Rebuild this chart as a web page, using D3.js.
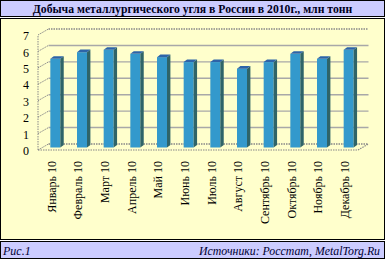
<!DOCTYPE html>
<html>
<head>
<meta charset="utf-8">
<script src="https://cdn.jsdelivr.net/npm/d3@7"></script>
<style>
  body { margin: 0; background: #fff; }
  svg { display: block; }
</style>
</head>
<body>
<svg id="chart" width="385" height="260"></svg>
<script>
// data
const months = ["Январь 10", "Февраль 10", "Март 10", "Апрель 10", "Май 10", "Июнь 10",
                "Июль 10", "Август 10", "Сентябрь 10", "Октябрь 10", "Ноябрь 10", "Декабрь 10"];
const output = [5.4, 5.8, 5.95, 5.7, 5.5, 5.2, 5.2, 4.8, 5.2, 5.7, 5.4, 5.95];
const yTicks = [0, 1, 2, 3, 4, 5, 6, 7];
const title = "Добыча металлургического угля в России в 2010г., млн тонн";
const figLabel = "Рис.1";
const source = "Источники: Росстат, MetalTorg.Ru";

const serif = "'Liberation Serif', 'Times New Roman', Times, serif";
const svg = d3.select("#chart").attr("font-family", serif);

// frames
svg.append("rect").attr("x", 0.5).attr("y", 0.5).attr("width", 384).attr("height", 16)
  .attr("fill", "#ccccff").attr("stroke", "#000");
svg.append("rect").attr("x", 0.5).attr("y", 18.5).attr("width", 384).attr("height", 221)
  .attr("fill", "#ffffcc").attr("stroke", "#000");
svg.append("rect").attr("x", 0.5).attr("y", 241.5).attr("width", 384).attr("height", 17)
  .attr("fill", "#ccccff").attr("stroke", "#000");

svg.append("text").attr("x", 192.5).attr("y", 12.5)
  .attr("text-anchor", "middle").attr("font-size", 11.7).attr("font-weight", "bold")
  .attr("fill", "#000022").text(title);
svg.append("text").attr("x", 3).attr("y", 255)
  .attr("font-size", 12).attr("font-style", "italic").attr("fill", "#000033").text(figLabel);
svg.append("text").attr("x", 380).attr("y", 255).attr("text-anchor", "end")
  .attr("font-size", 11.8).attr("font-style", "italic").attr("fill", "#000033").text(source);

// 3d plot geometry
const depthX = 10.5, depthY = -6;
const x = d3.scaleBand().domain(months).range([38, 358])
  .paddingInner(0.625).paddingOuter(0.3125);
const y = d3.scaleLinear().domain([0, 7]).range([150, 35]);

const g = svg.append("g");

// back wall grid lines
g.selectAll(".grid").data(yTicks).join("line")
  .attr("x1", 38 + depthX).attr("x2", 358 + depthX)
  .attr("y1", d => y(d) + depthY).attr("y2", d => y(d) + depthY)
  .attr("stroke", d => (d === 0 || d === 7) ? "#888" : "#a8a8a8")
  .attr("stroke-width", 1.4)
  .attr("stroke-dasharray", d => (d === 0 || d === 7) ? "1.5,1" : null);

// left wall: tick connectors and front edge
g.selectAll(".tick3d").data(yTicks).join("line")
  .attr("x1", 38).attr("y1", d => y(d))
  .attr("x2", 38 + depthX).attr("y2", d => y(d) + depthY)
  .attr("stroke", "#888").attr("stroke-width", 1).attr("stroke-dasharray", "1.5,1");
g.append("line").attr("x1", 38).attr("x2", 38).attr("y1", y(0)).attr("y2", y(7))
  .attr("stroke", "#888").attr("stroke-dasharray", "1.5,1");

// floor
g.append("path")
  .attr("d", `M38,${y(0)}H358L${358 + depthX},${y(0) + depthY}`)
  .attr("fill", "none").attr("stroke", "#888").attr("stroke-width", 1.2)
  .attr("stroke-dasharray", "1.5,1");

// y labels
g.selectAll(".ylab").data(yTicks).join("text")
  .attr("x", 29).attr("y", d => y(d) + 1).attr("dy", "0.35em")
  .attr("text-anchor", "end").attr("font-size", 12).attr("fill", "#000")
  .text(d => d);

// bars (placed at mid depth)
const bx = 4, by = -2.5, sideW = 3.4, sideH = -2.6;
const bars = g.selectAll(".bar").data(months.map((m, i) => ({ m, v: output[i] }))).join("g");
bars.append("rect")
  .attr("x", d => x(d.m) + bx).attr("y", d => y(d.v) + by)
  .attr("width", x.bandwidth()).attr("height", d => y(0) - y(d.v))
  .attr("fill", "#3399cc");
bars.append("path")
  .attr("d", d => {
    const x1 = x(d.m) + bx + x.bandwidth(), yt = y(d.v) + by, yb = y(0) + by;
    return `M${x1},${yt}l${sideW},${sideH}V${yb + sideH}l${-sideW},${-sideH}Z`;
  })
  .attr("fill", "#2f6468");
bars.append("path")
  .attr("d", d => {
    const x0 = x(d.m) + bx, yt = y(d.v) + by;
    return `M${x0},${yt}l${sideW},${sideH}h${x.bandwidth()}l${-sideW},${-sideH}Z`;
  })
  .attr("fill", "#2d64a8");

// x labels
g.selectAll(".xlab").data(months).join("text")
  .attr("transform", d => `translate(${x(d) + x.bandwidth() / 2},161) rotate(-90)`)
  .attr("dy", "0.35em").attr("text-anchor", "end")
  .attr("font-size", 12).attr("fill", "#000").text(d => d);
</script>
</body>
</html>
